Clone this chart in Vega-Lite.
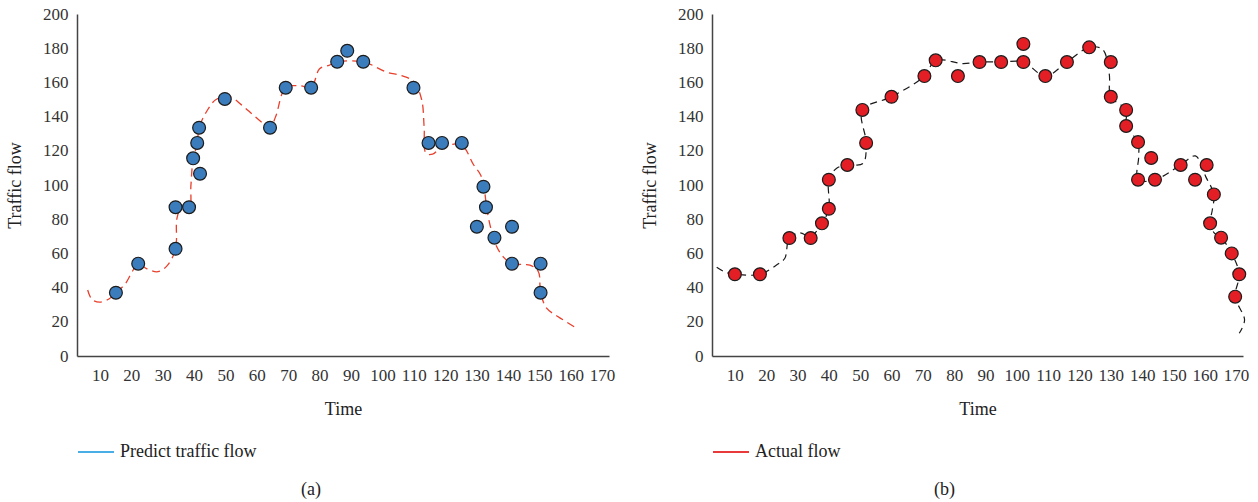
{
  "$schema": "https://vega.github.io/schema/vega-lite/v6.json",
  "padding": {"left": 6, "top": 5, "right": 0, "bottom": 0},
  "background": "white",
  "bounds": "flush",
  "spacing": 103,
  "config": {
    "view": {"stroke": null},
    "font": "Liberation Serif",
    "axis": {
      "labelFont": "Liberation Serif", "labelFontSize": 17, "labelColor": "#333333", "labelOverlap": false,
      "titleFont": "Liberation Serif", "titleFontSize": 18, "titleFontWeight": "normal", "titleColor": "#222222",
      "grid": false, "ticks": false, "tickSize": 0,
      "domainColor": "#444444", "domainWidth": 1.5
    },
    "legend": {
      "labelFont": "Liberation Serif", "labelFontSize": 18, "labelColor": "#222222",
      "padding": 0, "symbolType": "stroke", "symbolSize": 1296, "symbolStrokeWidth": 2, "labelOffset": 5
    },
    "title": {"font": "Liberation Serif", "fontSize": 18, "fontWeight": "normal", "color": "#222222"}
  },
  "datasets": {
    "predPts": [
      {"t": 15.1, "v": 37}, {"t": 22.2, "v": 54}, {"t": 34.1, "v": 62.7}, {"t": 34.1, "v": 87}, {"t": 38.4, "v": 87},
      {"t": 39.7, "v": 115.6}, {"t": 41.0, "v": 124.6}, {"t": 41.9, "v": 106.6}, {"t": 41.6, "v": 133.5}, {"t": 49.8, "v": 150.3},
      {"t": 64.2, "v": 133.5}, {"t": 69.2, "v": 156.9}, {"t": 77.3, "v": 156.9}, {"t": 85.6, "v": 172.1}, {"t": 88.8, "v": 178.5},
      {"t": 93.9, "v": 172.1}, {"t": 109.9, "v": 156.9}, {"t": 114.7, "v": 124.6}, {"t": 119.0, "v": 124.6}, {"t": 125.3, "v": 124.6},
      {"t": 130.1, "v": 75.6}, {"t": 132.2, "v": 99}, {"t": 133.0, "v": 87}, {"t": 135.7, "v": 69.2}, {"t": 141.3, "v": 75.6},
      {"t": 141.3, "v": 54}, {"t": 150.4, "v": 54}, {"t": 150.4, "v": 37}
    ],
    "predLine": [
      {"t": 6.1, "v": 38.6}, {"t": 7.5, "v": 33}, {"t": 10, "v": 31.5}, {"t": 13, "v": 33.5}, {"t": 15.1, "v": 37},
      {"t": 18, "v": 42}, {"t": 20.5, "v": 50}, {"t": 22.2, "v": 54}, {"t": 25, "v": 51}, {"t": 28.5, "v": 49.3},
      {"t": 31.5, "v": 53}, {"t": 34.1, "v": 62.7}, {"t": 34.5, "v": 80}, {"t": 35.5, "v": 85}, {"t": 38.4, "v": 86},
      {"t": 39, "v": 100}, {"t": 39.7, "v": 115}, {"t": 41, "v": 124}, {"t": 41.6, "v": 133.5}, {"t": 44, "v": 143},
      {"t": 47, "v": 150}, {"t": 51.4, "v": 151.6}, {"t": 55, "v": 147}, {"t": 58.8, "v": 141}, {"t": 62, "v": 136},
      {"t": 64.2, "v": 133.5}, {"t": 66, "v": 140}, {"t": 69.2, "v": 157}, {"t": 73.7, "v": 158}, {"t": 77.3, "v": 157},
      {"t": 80, "v": 168}, {"t": 83, "v": 170}, {"t": 85.6, "v": 172}, {"t": 93.9, "v": 172}, {"t": 101.4, "v": 166},
      {"t": 106, "v": 164}, {"t": 110, "v": 160.5}, {"t": 112.5, "v": 150}, {"t": 113.3, "v": 134}, {"t": 113.9, "v": 118.5},
      {"t": 116, "v": 118}, {"t": 118.4, "v": 121.4}, {"t": 123.7, "v": 124}, {"t": 126, "v": 122}, {"t": 129, "v": 112},
      {"t": 131.3, "v": 105.8}, {"t": 132.5, "v": 97}, {"t": 133.2, "v": 87}, {"t": 134.5, "v": 75}, {"t": 136.4, "v": 64},
      {"t": 138.5, "v": 58}, {"t": 141.3, "v": 54}, {"t": 145, "v": 53.5}, {"t": 147, "v": 53.2}, {"t": 149.7, "v": 49.3},
      {"t": 150.4, "v": 37}, {"t": 152.4, "v": 27.8}, {"t": 156, "v": 23}, {"t": 161.9, "v": 16.2}
    ],
    "actPts": [
      {"t": 10, "v": 47.8}, {"t": 18, "v": 47.8}, {"t": 27.4, "v": 69}, {"t": 34.2, "v": 69}, {"t": 37.8, "v": 77.6},
      {"t": 40, "v": 86.1}, {"t": 40, "v": 103.1}, {"t": 45.9, "v": 111.7}, {"t": 51.9, "v": 124.6}, {"t": 50.7, "v": 143.9},
      {"t": 60, "v": 151.6}, {"t": 70.5, "v": 163.7}, {"t": 74.1, "v": 172.9}, {"t": 81.2, "v": 163.7}, {"t": 88.1, "v": 171.9},
      {"t": 95, "v": 171.9}, {"t": 102.1, "v": 171.9}, {"t": 102.1, "v": 182.5}, {"t": 109.1, "v": 163.7}, {"t": 116, "v": 171.9},
      {"t": 123.1, "v": 180.5}, {"t": 130, "v": 171.9}, {"t": 130, "v": 151.6}, {"t": 134.9, "v": 143.9}, {"t": 134.9, "v": 134.5},
      {"t": 138.7, "v": 125.1}, {"t": 142.9, "v": 115.8}, {"t": 138.7, "v": 103.1}, {"t": 144.1, "v": 103.1}, {"t": 152.3, "v": 111.7},
      {"t": 160.6, "v": 111.7}, {"t": 156.9, "v": 103.1}, {"t": 162.9, "v": 94.5}, {"t": 161.7, "v": 77.6}, {"t": 165.2, "v": 69.2},
      {"t": 168.6, "v": 60}, {"t": 171, "v": 47.8}, {"t": 169.7, "v": 34.7}
    ],
    "actLine": [
      {"t": 4.2, "v": 51.9}, {"t": 7, "v": 49}, {"t": 10, "v": 47.8}, {"t": 18, "v": 47.8}, {"t": 23.3, "v": 53.2},
      {"t": 25.9, "v": 57}, {"t": 27.4, "v": 69}, {"t": 30.7, "v": 72}, {"t": 34.2, "v": 70}, {"t": 37.8, "v": 77.6},
      {"t": 40, "v": 86.1}, {"t": 40, "v": 103.1}, {"t": 42.4, "v": 109.7}, {"t": 45.9, "v": 111.7}, {"t": 50.9, "v": 112.6},
      {"t": 51.9, "v": 124.6}, {"t": 50.7, "v": 143.9}, {"t": 60, "v": 151.6}, {"t": 70.5, "v": 163.7}, {"t": 74.1, "v": 172.9},
      {"t": 82.8, "v": 171}, {"t": 88.1, "v": 171.9}, {"t": 95, "v": 171.9}, {"t": 102.1, "v": 171.9}, {"t": 109.1, "v": 163.7},
      {"t": 116, "v": 171.9}, {"t": 123.1, "v": 180.5}, {"t": 127.4, "v": 179.3}, {"t": 129.5, "v": 165}, {"t": 130, "v": 151.6},
      {"t": 134.9, "v": 143.9}, {"t": 134.9, "v": 134.5}, {"t": 138.7, "v": 125.1}, {"t": 138.9, "v": 116.6}, {"t": 138.7, "v": 103.1},
      {"t": 144.1, "v": 103.1}, {"t": 152.3, "v": 111.7}, {"t": 157, "v": 117}, {"t": 160.3, "v": 104.9}, {"t": 162.9, "v": 94.5},
      {"t": 162.4, "v": 85.4}, {"t": 161.7, "v": 77.6}, {"t": 163, "v": 72}, {"t": 165.2, "v": 69.2}, {"t": 168.6, "v": 60},
      {"t": 171, "v": 47.8}, {"t": 169.7, "v": 34.7}, {"t": 172.7, "v": 21}, {"t": 171, "v": 13.3}
    ],
    "legA": [{"series": "Predict traffic flow"}],
    "legB": [{"series": "Actual flow"}]
  },
  "hconcat": [
    {
      "width": 532, "height": 342,
      "title": {"text": "(a)", "orient": "bottom", "frame": "group", "anchor": "middle", "baseline": "top", "offset": 20, "dx": -32},
      "layer": [
        {
          "data": {"name": "predLine"},
          "mark": {"type": "line", "interpolate": "catmull-rom", "color": "#e8402c", "strokeWidth": 1.3, "strokeDash": [8, 5]},
          "encoding": {
            "x": {"field": "t", "type": "quantitative", "scale": {"domain": [2.7, 172.2], "nice": false, "zero": false},
                  "axis": {"title": "Time", "values": [10,20,30,40,50,60,70,80,90,100,110,120,130,140,150,160,170], "labelOverlap": false, "labelPadding": 11, "titlePadding": 17}},
            "y": {"field": "v", "type": "quantitative", "scale": {"domain": [0, 200], "nice": false},
                  "axis": {"title": "Traffic flow", "values": [0,20,40,60,80,100,120,140,160,180,200], "labelOverlap": false, "labelPadding": 9, "titlePadding": 18}},
            "order": {"value": null}
          }
        },
        {
          "data": {"name": "predPts"},
          "mark": {"type": "point", "shape": "circle", "filled": true, "fill": "#3b7cbd", "stroke": "#1c1c1c", "strokeWidth": 1.2, "size": 165, "opacity": 1},
          "encoding": {
            "x": {"field": "t", "type": "quantitative",
                  "axis": {"title": "Time", "values": [10,20,30,40,50,60,70,80,90,100,110,120,130,140,150,160,170], "labelOverlap": false, "labelPadding": 11, "titlePadding": 17}},
            "y": {"field": "v", "type": "quantitative",
                  "axis": {"title": "Traffic flow", "values": [0,20,40,60,80,100,120,140,160,180,200], "labelOverlap": false, "labelPadding": 9, "titlePadding": 18}}
          }
        },
        {
          "data": {"name": "legA"},
          "mark": {"type": "rule", "clip": true, "strokeWidth": 2},
          "encoding": {
            "x": {"datum": 1000, "type": "quantitative",
                  "axis": {"title": "Time", "values": [10,20,30,40,50,60,70,80,90,100,110,120,130,140,150,160,170], "labelOverlap": false, "labelPadding": 11, "titlePadding": 17}},
            "color": {"field": "series", "type": "nominal", "scale": {"range": ["#4aaee6"]},
                      "legend": {"title": null, "orient": "none", "legendX": 0, "legendY": 419}}
          }
        }
      ]
    },
    {
      "width": 531, "height": 342,
      "title": {"text": "(b)", "orient": "bottom", "frame": "group", "anchor": "middle", "baseline": "top", "offset": 20, "dx": -33},
      "layer": [
        {
          "data": {"name": "actLine"},
          "mark": {"type": "line", "interpolate": "catmull-rom", "color": "#1a1a1a", "strokeWidth": 1.2, "strokeDash": [7, 5]},
          "encoding": {
            "x": {"field": "t", "type": "quantitative", "scale": {"domain": [2.7, 172.2], "nice": false, "zero": false},
                  "axis": {"title": "Time", "values": [10,20,30,40,50,60,70,80,90,100,110,120,130,140,150,160,170], "labelOverlap": false, "labelPadding": 11, "titlePadding": 17}},
            "y": {"field": "v", "type": "quantitative", "scale": {"domain": [0, 200], "nice": false},
                  "axis": {"title": "Traffic flow", "values": [0,20,40,60,80,100,120,140,160,180,200], "labelOverlap": false, "labelPadding": 9, "titlePadding": 18}},
            "order": {"value": null}
          }
        },
        {
          "data": {"name": "actPts"},
          "mark": {"type": "point", "shape": "circle", "filled": true, "fill": "#e31e24", "stroke": "#1c1c1c", "strokeWidth": 1.2, "size": 165, "opacity": 1},
          "encoding": {
            "x": {"field": "t", "type": "quantitative",
                  "axis": {"title": "Time", "values": [10,20,30,40,50,60,70,80,90,100,110,120,130,140,150,160,170], "labelOverlap": false, "labelPadding": 11, "titlePadding": 17}},
            "y": {"field": "v", "type": "quantitative",
                  "axis": {"title": "Traffic flow", "values": [0,20,40,60,80,100,120,140,160,180,200], "labelOverlap": false, "labelPadding": 9, "titlePadding": 18}}
          }
        },
        {
          "data": {"name": "legB"},
          "mark": {"type": "rule", "clip": true, "strokeWidth": 2},
          "encoding": {
            "x": {"datum": 1000, "type": "quantitative",
                  "axis": {"title": "Time", "values": [10,20,30,40,50,60,70,80,90,100,110,120,130,140,150,160,170], "labelOverlap": false, "labelPadding": 11, "titlePadding": 17}},
            "color": {"field": "series", "type": "nominal", "scale": {"range": ["#e8393b"]},
                      "legend": {"title": null, "orient": "none", "legendX": 0, "legendY": 419}}
          }
        }
      ]
    }
  ],
  "resolve": {"scale": {"color": "independent"}}
}
